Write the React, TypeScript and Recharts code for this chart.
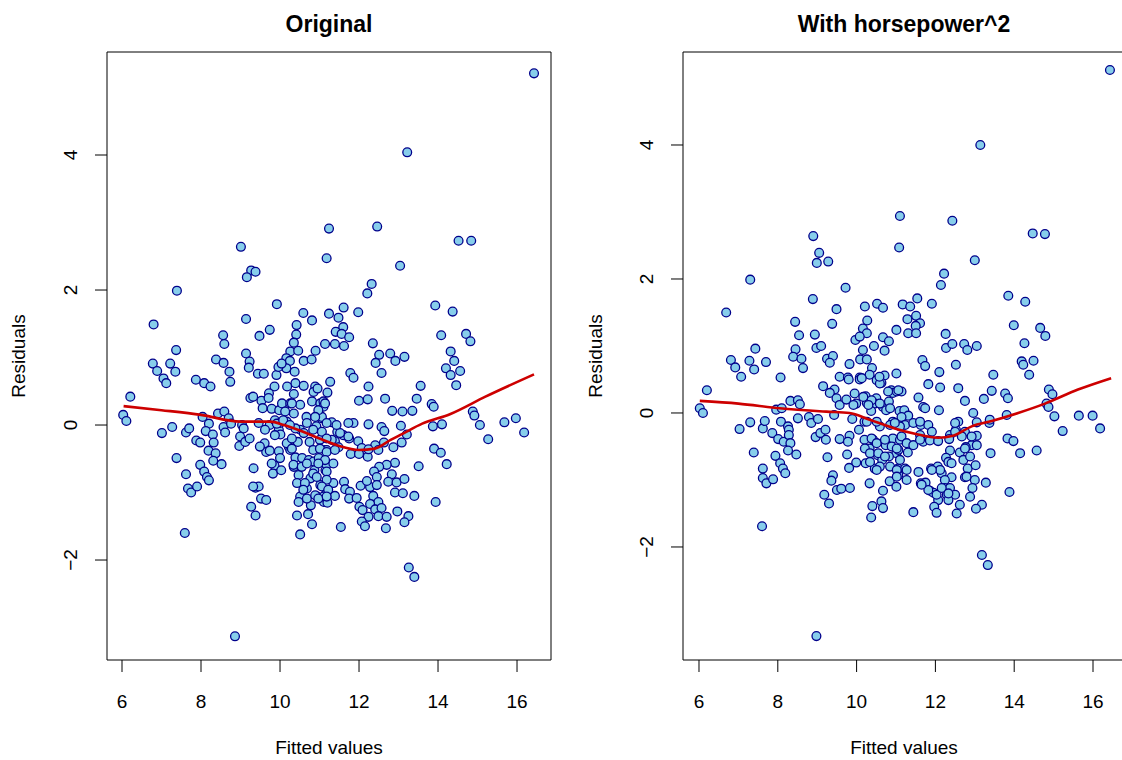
/**
 * Residuals vs fitted values, two models side by side
 */

import { ComposedChart, Scatter, XAxis, YAxis, ReferenceLine } from 'recharts'

const xTicks = [6, 8, 10, 12, 14, 16]
const yTicks = [-2, 0, 2, 4]

const panelTitles = ['Original', 'With horsepower^2']
const xLabel = 'Fitted values'
const yLabel = 'Residuals'

// [fitted, residual]
const originalPoints: [number, number][] = [
  [9.01, 2.64], [9.27, 2.29], [9.38, 2.27], [9.16, 2.19], [7.39, 1.99], [9.92, 1.79], [6.8, 1.49], [9.14, 1.57],
  [9.74, 1.41], [9.48, 1.32], [8.56, 1.33], [8.59, 1.2], [7.37, 1.11], [6.78, 0.91], [6.89, 0.8], [7.22, 0.91],
  [7.35, 0.79], [7.05, 0.69], [7.12, 0.62], [7.87, 0.67], [8.08, 0.62], [8.24, 0.57], [8.38, 0.97], [8.57, 0.92],
  [8.72, 0.79], [8.74, 0.64], [9.14, 1.06], [9.23, 0.94], [9.21, 0.85], [9.44, 0.76], [9.59, 0.76], [9.91, 0.74],
  [10.42, 1.48], [10.59, 1.66], [10.81, 1.55], [10.41, 1.34], [10.35, 1.22], [10.26, 1.09], [10.46, 1.1], [10.16, 0.99],
  [10.25, 0.95], [10.6, 0.95], [10.8, 0.97], [10.9, 1.1], [10.16, 0.84], [10.37, 0.79], [10.39, 0.62], [9.86, 0.57],
  [10.18, 0.57], [10.6, 0.58], [10.89, 0.57],
  [13.22, 4.04], [11.24, 2.91], [11.18, 2.47], [12.46, 2.94], [14.52, 2.73], [14.84, 2.73], [13.04, 2.36], [12.32, 2.09],
  [12.21, 1.95], [11.24, 1.65], [11.61, 1.74], [11.48, 1.59], [11.98, 1.67], [11.6, 1.45], [11.41, 1.38], [11.56, 1.35],
  [11.75, 1.3], [11.14, 1.2], [11.39, 1.2], [11.62, 1.17], [12.35, 1.21], [12.51, 1.04], [12.79, 1.06], [12.42, 0.92],
  [12.92, 0.95], [13.15, 1.01], [11.78, 0.77], [11.86, 0.7], [12.57, 0.77], [11.27, 0.64], [12.24, 0.57], [13.56, 0.58],
  [13.93, 1.77], [14.37, 1.68], [14.08, 1.33], [14.71, 1.35], [14.82, 1.24], [14.32, 1.09], [14.41, 0.95], [14.2, 0.84],
  [14.32, 0.74], [14.56, 0.8], [14.46, 0.59],
  [6.21, 0.42], [6.03, 0.15], [6.11, 0.06], [7.01, -0.12], [7.27, -0.03], [7.62, -0.11], [7.7, -0.05], [7.88, -0.23],
  [7.98, -0.26], [8.04, 0.12], [8.2, 0.02], [8.43, 0.17], [8.59, 0.2], [8.7, 0.1], [8.12, -0.09], [8.3, -0.14],
  [8.57, -0.03], [8.61, -0.11], [8.32, -0.26], [8.19, -0.38], [8.37, -0.42], [8.31, -0.53], [8.52, -0.58], [7.38, -0.49],
  [7.98, -0.59], [8.08, -0.69], [8.15, -0.77], [8.2, -0.82], [7.62, -0.73], [7.67, -0.94], [7.75, -1.0], [7.9, -0.91],
  [7.59, -1.6], [8.86, -3.13], [8.76, 0.02], [9.04, 0.0], [9.08, -0.05], [8.99, -0.17], [8.97, -0.31], [9.12, -0.25],
  [9.23, -0.2], [9.25, 0.4], [9.53, 0.36], [9.56, 0.25], [9.46, 0.03], [9.74, 0.0], [9.72, 0.47], [9.79, 0.24],
  [9.98, 0.22], [10.05, 0.32], [9.61, -0.27], [9.65, -0.4], [9.74, -0.38], [9.97, -0.39], [9.97, -0.07], [10.01, -0.14],
  [9.33, -0.64], [9.86, -0.6], [9.82, -0.72], [10.03, -0.67], [9.38, -0.93], [9.46, -0.91], [9.52, -1.09], [9.65, -1.11],
  [9.27, -1.21], [9.38, -1.34], [10.35, 0.46], [10.26, 0.32], [10.51, 0.3], [10.35, 0.17], [10.67, 0.12], [10.85, 0.49],
  [10.95, 0.54], [10.81, 0.35], [11.02, 0.32], [11.05, 0.1], [10.92, -0.02], [10.51, -0.07], [10.39, -0.05], [10.6, -0.12],
  [10.45, -0.25], [10.75, -0.25], [10.22, -0.32], [10.26, -0.37], [10.39, -0.48], [10.56, -0.49], [10.35, -0.62], [10.73, -0.52],
  [10.85, -0.54], [10.98, -0.49], [10.87, -0.67], [10.47, -0.74], [10.77, -0.79], [10.43, -0.86], [10.68, -0.94], [11.02, -0.89],
  [10.51, -1.06], [10.47, -1.14], [10.94, -1.06], [10.78, -1.19], [10.71, -1.32], [10.43, -1.34], [10.81, -1.47], [10.51, -1.62],
  [11.11, -1.14], [11.15, -0.67], [11.15, -0.37],
  [11.2, 0.48], [11.1, 0.35], [11.1, 0.27], [11.06, 0.12], [12.0, 0.36], [12.22, 0.38], [12.66, 0.39], [12.84, 0.21],
  [13.1, 0.2], [13.35, 0.21], [13.46, 0.39], [13.84, 0.31], [13.89, 0.27], [11.31, 0.04], [11.45, -0.1], [11.86, 0.03],
  [12.24, 0.01], [12.57, -0.03], [12.64, -0.09], [13.06, -0.01], [13.21, -0.14], [13.87, -0.02], [14.1, 0.01], [14.88, 0.2],
  [14.92, 0.14], [15.06, 0.0], [15.27, -0.21], [15.68, 0.04], [15.97, 0.1], [16.18, -0.11], [11.01, -0.22], [11.39, -0.24],
  [11.18, -0.37], [11.48, -0.33], [11.75, -0.2], [11.98, -0.24], [12.07, -0.34], [11.79, -0.43], [12.0, -0.43], [12.22, -0.47],
  [12.41, -0.3], [12.49, -0.37], [12.63, -0.26], [12.87, -0.33], [13.08, -0.26], [13.9, -0.35], [14.07, -0.41], [14.22, -0.58],
  [13.51, -0.61], [12.91, -0.56], [12.7, -0.59], [12.51, -0.62], [12.38, -0.69], [12.45, -0.77], [12.83, -0.73], [12.74, -0.84],
  [12.95, -0.85], [13.15, -0.8], [11.18, -0.59], [11.35, -0.57], [11.18, -0.69], [11.62, -0.84], [11.35, -0.86], [12.04, -0.9],
  [12.28, -0.92], [12.45, -0.89], [12.2, -0.83], [11.65, -0.95], [11.77, -0.99], [11.75, -1.09], [11.94, -1.08], [11.18, -0.99],
  [11.1, -1.06], [11.39, -1.05], [11.2, -1.15], [12.36, -1.05], [12.49, -1.14], [12.28, -1.17], [12.41, -1.25], [12.57, -1.23],
  [12.91, -1.0], [13.11, -1.01], [13.4, -1.05], [12.01, -1.21], [12.09, -1.26], [12.24, -1.36], [12.07, -1.43], [12.15, -1.5],
  [12.49, -1.35], [12.7, -1.36], [12.68, -1.53], [12.97, -1.28], [13.25, -1.35], [13.15, -1.44], [13.94, -1.14], [11.54, -1.51],
  [13.26, -2.11], [13.4, -2.25],
  [10.3, 0.32], [10.13, 0.2], [11.14, 0.32], [10.97, 0.22], [10.89, 0.12], [10.68, 0.03], [11.06, -0.1], [10.17, -0.27],
  [10.3, -0.35], [10.34, -0.59], [10.55, -0.62], [10.68, -0.57], [10.84, -0.37], [11.01, -0.35], [11.18, -0.4], [11.39, -0.37],
  [11.14, -0.52], [10.97, -0.57], [10.84, -0.72], [10.63, -0.86], [10.93, -0.77], [11.18, -0.81], [11.06, -0.91], [11.22, -0.96],
  [10.59, -0.96], [10.68, -1.09], [10.89, -1.04], [10.97, -1.09], [11.18, -1.06], [9.32, 0.42], [9.71, 0.4], [9.96, 0.86],
  [10.04, 0.91], [10.0, -0.49], [9.79, -0.57], [9.32, -0.91], [9.87, 0.07], [10.0, 0.03], [10.17, 0.05], [9.62, -0.07],
  [9.49, -0.32], [10.3, -0.2], [12.24, -0.36], [11.6, -0.15], [11.73, -0.17], [11.52, -0.12], [11.31, -0.22], [11.18, -0.2],
  [9.87, -0.15], [9.92, 0.02], [10.08, 0.07], [10.25, 0.0], [10.84, -0.07], [11.18, 0.03], [11.43, 0.0], [11.73, 0.03],
  [16.43, 5.21],
]

// lowess curve, left panel
const originalSmooth: [number, number][] = [
  [6.04, 0.28], [7.0, 0.22], [8.0, 0.15], [9.0, 0.05], [9.75, 0.05], [10.1, 0.0], [10.5, -0.08], [11.0, -0.2],
  [11.5, -0.31], [12.0, -0.37], [12.4, -0.35], [12.8, -0.22], [13.1, -0.13], [13.6, 0.02], [14.3, 0.16], [15.2, 0.42],
  [16.43, 0.75],
]

// [fitted, residual]
const squaredPoints: [number, number][] = [
  [8.9, 2.64], [9.05, 2.39], [8.99, 2.24], [9.28, 2.26], [7.3, 1.99], [9.72, 1.87], [6.69, 1.5], [8.89, 1.7],
  [9.49, 1.55], [8.44, 1.36], [9.38, 1.33], [8.54, 1.16], [8.94, 1.17], [7.43, 0.96], [6.81, 0.79], [6.92, 0.68],
  [7.28, 0.78], [7.4, 0.65], [7.7, 0.76], [7.07, 0.54], [8.07, 0.53], [8.45, 0.95], [8.39, 0.84], [8.6, 0.81],
  [8.64, 0.67], [8.98, 0.97], [9.1, 1.0], [9.25, 0.81], [9.4, 0.85], [9.32, 0.75], [9.82, 0.73], [9.57, 0.54],
  [9.78, 0.53], [10.08, 0.53], [10.21, 1.59], [10.52, 1.63], [10.67, 1.57], [10.27, 1.38], [10.16, 1.26], [10.26, 1.19],
  [9.97, 1.09], [10.08, 1.14], [10.16, 0.94], [10.44, 1.0], [10.67, 1.13], [10.82, 1.07], [10.71, 0.93], [11.01, 1.24],
  [10.09, 0.8], [10.26, 0.8], [10.39, 0.67], [10.33, 0.57], [10.71, 0.56], [11.01, 0.59],
  [13.14, 4.0], [11.1, 2.94], [11.08, 2.47], [12.43, 2.87], [14.47, 2.68], [14.78, 2.67], [13.0, 2.28], [12.22, 2.08],
  [12.14, 1.91], [11.17, 1.62], [11.36, 1.59], [11.54, 1.71], [11.91, 1.63], [11.29, 1.4], [11.51, 1.45], [11.61, 1.34],
  [11.5, 1.3], [11.31, 1.19], [11.51, 1.19], [12.26, 1.18], [12.27, 0.97], [12.43, 1.03], [12.73, 1.03], [12.81, 0.94],
  [13.05, 1.0], [11.67, 0.79], [11.74, 0.7], [12.52, 0.72], [12.1, 0.61], [13.85, 1.75], [14.28, 1.66], [13.99, 1.31],
  [14.66, 1.27], [14.79, 1.15], [14.26, 1.04], [14.19, 0.77], [14.23, 0.72], [14.49, 0.78], [14.38, 0.57], [13.47, 0.57],
  [6.2, 0.34], [6.02, 0.07], [6.1, 0.0], [7.03, -0.24], [7.3, -0.14], [7.62, -0.23], [7.67, -0.12], [7.86, -0.3],
  [7.96, 0.05], [8.1, 0.07], [8.08, -0.13], [8.26, -0.2], [8.28, -0.25], [8.01, -0.39], [8.15, -0.43], [8.28, -0.33],
  [8.32, -0.45], [8.26, -0.56], [8.47, -0.62], [7.39, -0.59], [7.94, -0.64], [8.06, -0.75], [8.13, -0.83], [8.19, -0.9],
  [7.62, -0.83], [7.62, -0.97], [7.71, -1.05], [7.88, -0.99], [7.6, -1.69], [8.98, -3.33], [8.32, 0.18], [8.51, 0.19],
  [8.56, 0.13], [8.51, -0.08], [8.79, -0.06], [8.85, -0.15], [9.02, -0.09], [8.96, -0.36], [9.08, -0.3], [9.21, -0.25],
  [9.22, -0.4], [9.15, 0.4], [9.44, 0.35], [9.32, 0.3], [9.49, 0.22], [9.57, 0.12], [9.43, -0.03], [9.8, 0.5],
  [10.08, 0.5], [9.74, 0.2], [9.95, 0.29], [9.99, 0.14], [10.23, 0.25], [10.26, 0.15], [9.89, -0.09], [9.57, -0.39],
  [9.82, -0.34], [9.78, -0.43], [9.26, -0.66], [9.76, -0.62], [9.99, -0.74], [9.81, -0.82], [9.4, -0.93], [9.36, -1.01],
  [9.5, -1.15], [9.61, -1.13], [9.18, -1.22], [9.3, -1.35], [10.63, 0.45], [10.88, 0.34], [10.92, 0.3], [10.5, 0.22],
  [10.46, 0.14], [10.67, 0.09], [10.82, 0.17], [11.09, 0.03], [10.37, 0.03], [10.2, -0.13], [10.59, -0.2], [10.92, -0.13],
  [10.75, 0.04], [10.06, -0.25], [10.2, -0.4], [10.33, -0.53], [10.42, -0.4], [10.74, -0.48], [10.92, -0.38], [11.01, -0.6],
  [10.54, -0.63], [10.65, -0.7], [10.82, -0.65], [10.23, -0.75], [10.46, -0.83], [10.33, -1.05], [10.59, -0.8], [10.84, -1.02],
  [11.05, -0.83], [11.01, -1.1], [10.67, -1.16], [10.63, -1.32], [10.4, -1.39], [10.67, -1.42], [10.37, -1.56],
  [11.82, 0.43], [12.12, 0.38], [12.58, 0.37], [12.75, 0.18], [13.23, 0.21], [13.43, 0.33], [13.77, 0.29], [13.84, 0.22],
  [11.57, 0.23], [11.69, 0.09], [11.74, 0.07], [11.21, 0.04], [11.31, -0.04], [12.09, 0.04], [11.02, 0.32], [11.14, -0.06],
  [11.23, -0.18], [11.1, -0.2], [11.44, -0.15], [11.63, -0.18], [11.82, -0.18], [11.91, -0.28], [11.61, -0.33], [11.69, -0.43],
  [11.86, -0.41], [12.07, -0.42], [12.58, -0.13], [12.52, -0.25], [12.75, -0.28], [12.37, -0.33], [12.35, -0.39], [13.05, -0.14],
  [13.37, -0.15], [13.05, -0.34], [12.92, -0.48], [13.81, -0.03], [11.1, -0.4], [11.06, -0.55], [11.3, -0.59], [12.37, -0.56],
  [12.27, -0.67], [12.33, -0.73], [12.62, -0.59], [12.77, -0.51], [12.71, -0.7], [12.82, -0.83], [13.02, -0.78], [13.4, -0.6],
  [13.83, -0.38], [13.98, -0.42], [14.15, -0.6], [14.57, -0.56], [14.82, 0.14], [14.88, 0.35], [14.97, 0.28], [14.87, 0.09],
  [15.02, -0.05], [15.23, -0.27], [15.64, -0.04], [15.99, -0.04], [16.18, -0.23], [11.23, -0.83], [11.06, -0.93], [11.27, -1.0],
  [11.57, -0.88], [11.89, -0.83], [12.06, -0.8], [12.16, -0.9], [12.41, -0.96], [11.63, -1.05], [11.75, -1.04], [11.86, -1.16],
  [11.95, -1.19], [12.24, -1.0], [12.23, -1.12], [12.37, -1.12], [12.5, -1.22], [12.29, -1.22], [12.33, -1.3], [12.07, -1.3],
  [11.97, -1.4], [12.03, -1.49], [11.44, -1.48], [12.54, -1.5], [12.62, -1.37], [12.75, -0.96], [13.0, -1.0], [12.94, -1.12],
  [12.88, -1.25], [13.18, -1.37], [13.03, -1.43], [13.28, -1.04], [13.88, -1.18], [13.18, -2.12], [13.33, -2.27],
  [10.13, 0.52], [10.51, 0.49], [10.59, 0.44], [10.17, 0.24], [10.38, 0.19], [10.8, 0.32], [11.14, 0.32], [9.92, 0.12],
  [10.3, 0.12], [10.59, 0.14], [10.85, 0.07], [10.26, -0.13], [10.51, -0.13], [10.85, -0.18], [10.97, -0.15], [10.38, -0.38],
  [10.51, -0.45], [10.72, -0.4], [10.89, -0.5], [11.14, -0.35], [11.27, -0.45], [10.21, -0.53], [10.34, -0.6], [10.55, -0.6],
  [10.72, -0.65], [11.02, -0.53], [10.34, -0.73], [10.51, -0.85], [10.85, -0.8], [11.02, -0.85], [11.1, -0.7], [11.27, -0.85],
  [11.44, -0.48], [11.61, -0.4], [12.5, -0.28], [12.67, -0.35], [12.96, 0.0], [12.92, -0.35], [13.05, -0.48], [12.75, -0.53],
  [12.41, -0.75], [12.88, -0.65], [12.12, -0.85], [11.91, -0.85], [12.79, -0.95], [11.82, -1.15], [12.03, -1.22], [12.16, -1.12],
  [12.33, -1.2], [11.02, -0.95], [11.65, -1.07], [9.83, -1.12], [10.58, 0.54], [11.06, 0.34], [13.38, -0.1], [12.5, -0.15],
  [11.61, -0.13],
  [16.43, 5.12],
]

// lowess curve, right panel
const squaredSmooth: [number, number][] = [
  [6.02, 0.18], [7.0, 0.14], [8.05, 0.07], [9.23, 0.02], [9.82, 0.0], [10.33, -0.1], [10.97, -0.23], [11.48, -0.31],
  [12.07, -0.37], [12.45, -0.34], [12.92, -0.2], [13.43, -0.12], [14.1, 0.0], [14.78, 0.14], [15.62, 0.35], [16.46, 0.52],
]

const FONT = '"Liberation Sans", Arial, Helvetica, sans-serif'
const TOP = 52
const BOTTOM = 660

function XTick({ x, y, payload }: any) {
  return (
    <text x={x} y={y + 36} textAnchor="middle" fontSize={19} fontFamily={FONT} fill="#000">
      {payload.value}
    </text>
  )
}

function YTick({ x, y, payload }: any) {
  const bx = x - 18
  const label = payload.value < 0 ? `\u2212${Math.abs(payload.value)}` : String(payload.value)
  return (
    <text x={bx} y={y} transform={`rotate(-90 ${bx} ${y})`} textAnchor="middle" fontSize={19} fontFamily={FONT} fill="#000">
      {label}
    </text>
  )
}

function Dot(props: any) {
  return <circle cx={props.cx} cy={props.cy} r={4.4} fill="#87CEEB" stroke="#00008B" strokeWidth={1.3} />
}

// the smoother only needs its line, no markers
function NoDot() {
  return <g />
}

interface PanelProps {
  points: [number, number][]
  smooth: [number, number][]
  xDomain: [number, number]
  yDomain: [number, number]
  width: number
  marginLeft: number
  marginRight: number
  rightEdge: boolean
}

function ResidualPanel({ points, smooth, xDomain, yDomain, width, marginLeft, marginRight, rightEdge }: PanelProps) {
  const pts = points.map(([x, y]) => ({ x, y }))
  const curve = smooth.map(([x, y]) => ({ x, y }))
  return (
    <ComposedChart
      width={width}
      height={760}
      margin={{ top: TOP, right: marginRight, bottom: 760 - BOTTOM - 50, left: marginLeft }}
    >
      <XAxis
        type="number"
        dataKey="x"
        domain={xDomain}
        ticks={xTicks}
        interval={0}
        allowDataOverflow
        axisLine={false}
        tickLine={{ stroke: '#000', strokeWidth: 1 }}
        tickSize={12}
        tickMargin={0}
        tick={<XTick />}
        height={50}
      />
      <YAxis
        type="number"
        dataKey="y"
        domain={yDomain}
        ticks={yTicks}
        interval={0}
        allowDataOverflow
        axisLine={false}
        tickLine={{ stroke: '#000', strokeWidth: 1 }}
        tickSize={12}
        tickMargin={0}
        tick={<YTick />}
        width={50}
      />
      <ReferenceLine y={yDomain[1]} stroke="#000" strokeWidth={1} />
      <ReferenceLine y={yDomain[0]} stroke="#000" strokeWidth={1} />
      <ReferenceLine x={xDomain[0]} stroke="#000" strokeWidth={1} />
      {rightEdge && <ReferenceLine x={xDomain[1]} stroke="#000" strokeWidth={1} />}
      <Scatter data={pts} dataKey="y" shape={Dot} isAnimationActive={false} />
      <Scatter
        data={curve}
        dataKey="y"
        shape={NoDot}
        line={{ stroke: '#CD0000', strokeWidth: 2.6 }}
        lineJointType="monotoneX"
        isAnimationActive={false}
      />
    </ComposedChart>
  )
}

export default function App() {
  return (
    <div style={{ position: 'absolute', left: 0, top: 0, width: 1122, height: 760, background: '#fff', overflow: 'hidden' }}>
      <div style={{ position: 'absolute', left: 0, top: 0 }}>
        <ResidualPanel
          points={originalPoints}
          smooth={originalSmooth}
          xDomain={[5.62, 16.86]}
          yDomain={[-3.481, 5.526]}
          width={561}
          marginLeft={57}
          marginRight={10}
          rightEdge
        />
      </div>
      <div style={{ position: 'absolute', left: 561, top: 0 }}>
        <ResidualPanel
          points={squaredPoints}
          smooth={squaredSmooth}
          xDomain={[5.594, 16.736]}
          yDomain={[-3.687, 5.388]}
          width={561}
          marginLeft={72}
          marginRight={0}
          rightEdge={false}
        />
      </div>
      <svg width={1122} height={760} style={{ position: 'absolute', left: 0, top: 0, pointerEvents: 'none' }}>
        <g fontFamily={FONT} fill="#000">
          <text x={329} y={32} textAnchor="middle" fontSize={23} fontWeight="bold">{panelTitles[0]}</text>
          <text x={904} y={32} textAnchor="middle" fontSize={23} fontWeight="bold">{panelTitles[1]}</text>
          <text x={329} y={754} textAnchor="middle" fontSize={19}>{xLabel}</text>
          <text x={904} y={754} textAnchor="middle" fontSize={19}>{xLabel}</text>
          <text x={25} y={356} transform="rotate(-90 25 356)" textAnchor="middle" fontSize={19}>{yLabel}</text>
          <text x={602} y={356} transform="rotate(-90 602 356)" textAnchor="middle" fontSize={19}>{yLabel}</text>
        </g>
      </svg>
    </div>
  )
}
